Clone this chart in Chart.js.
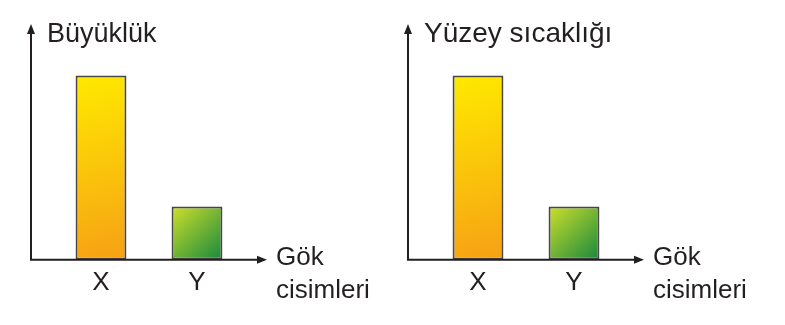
<!DOCTYPE html>
<html>
<head>
<meta charset="utf-8">
<script src="https://cdn.jsdelivr.net/npm/chart.js@4/dist/chart.umd.min.js"></script>
<style>
    html, body { margin: 0; padding: 0; background: #fff; }
    #wrap { position: relative; width: 785px; height: 325px; }
    .box { position: absolute; top: 0; width: 390px; height: 325px; }
    #box1 { left: 0; }
    #box2 { left: 377px; }
</style>
</head>
<body>
<div id="wrap">
    <div class="box" id="box1"><canvas id="chart1"></canvas></div>
    <div class="box" id="box2"><canvas id="chart2"></canvas></div>
</div>
<script>
'use strict'

// DATA
var categories = ['X', 'Y'];
var buyuklukValues = [7.95, 2.3];
var sicaklikValues = [7.95, 2.3];
var yTitles = ['Büyüklük', 'Yüzey sıcaklığı'];
var xTitleLines = ['Gök', 'cisimleri'];

var ink = '#231f20';
var fontFamily = '"Liberation Sans", Arial, sans-serif';
// top-left colour, bottom-right colour per bar
var barColors = [['#ffea00', '#f6a015'], ['#cfe02a', '#17883e']];

function barFill(context) {
    var chart = context.chart;
    var pair = barColors[context.dataIndex % barColors.length];
    if (!chart.chartArea || context.type !== 'data') return pair[0];
    var xs = chart.scales.x, ys = chart.scales.y;
    var cx = xs.getPixelForValue(context.dataIndex);
    var half = xs.width / categories.length * 0.53 / 2;
    var g = chart.ctx.createLinearGradient(cx - half, ys.getPixelForValue(context.raw), cx + half, ys.getPixelForValue(0));
    g.addColorStop(0, pair[0]);
    g.addColorStop(1, pair[1]);
    return g;
}

// axes with arrows + axis titles
var arrowAxes = {
    id: 'arrowAxes',
    afterDatasetsDraw: function (chart, args, opts) {
        var ctx = chart.ctx;
        var area = chart.chartArea;
        var y0 = chart.scales.y.getPixelForValue(0);
        var x0 = area.left - 22;
        var topY = area.top - 4;
        var rightX = area.right + 22;
        ctx.save();
        ctx.strokeStyle = ink;
        ctx.fillStyle = ink;
        ctx.lineWidth = 2;
        ctx.beginPath();
        ctx.moveTo(x0, topY + 6);
        ctx.lineTo(x0, y0);
        ctx.lineTo(rightX - 6, y0);
        ctx.stroke();
        // arrow heads
        ctx.beginPath();
        ctx.moveTo(x0, topY);
        ctx.lineTo(x0 - 4, topY + 10);
        ctx.lineTo(x0 + 4, topY + 10);
        ctx.closePath();
        ctx.fill();
        ctx.beginPath();
        ctx.moveTo(rightX, y0);
        ctx.lineTo(rightX - 10, y0 - 4);
        ctx.lineTo(rightX - 10, y0 + 4);
        ctx.closePath();
        ctx.fill();
        // texts
        ctx.textBaseline = 'alphabetic';
        ctx.textAlign = 'left';
        ctx.font = opts.titleSize + 'px ' + fontFamily;
        ctx.fillText(opts.title, x0 + 16, 42);
        ctx.font = '26px ' + fontFamily;
        ctx.fillText(xTitleLines[0], rightX + 9, 265);
        ctx.fillText(xTitleLines[1], rightX + 9, 298);
        ctx.restore();
    }
};

function makeChart(id, values, title, titleSize) {
    var ctx = document.getElementById(id).getContext('2d');
    return new Chart(ctx, {
        type: 'bar',
        data: {
            labels: categories,
            datasets: [{
                data: values,
                backgroundColor: barFill,
                borderColor: '#4a4646',
                borderWidth: 2,
                borderSkipped: false,
                categoryPercentage: 1,
                barPercentage: 0.53
            }]
        },
        options: {
            responsive: true,
            maintainAspectRatio: false,
            animation: false,
            layout: {
                padding: { left: 53, right: 145, top: 28, bottom: 20 }
            },
            scales: {
                x: {
                    offset: true,
                    grid: { display: false, drawTicks: false },
                    border: { display: false },
                    ticks: {
                        color: ink,
                        padding: 7,
                        font: { family: fontFamily, size: 26 }
                    }
                },
                y: {
                    display: false,
                    min: 0,
                    max: 10
                }
            },
            plugins: {
                legend: { display: false },
                tooltip: { enabled: false },
                arrowAxes: { title: title, titleSize: titleSize }
            }
        },
        plugins: [arrowAxes]
    });
}

var chart1 = makeChart('chart1', buyuklukValues, yTitles[0], 27);
var chart2 = makeChart('chart2', sicaklikValues, yTitles[1], 28);
</script>
</body>
</html>
